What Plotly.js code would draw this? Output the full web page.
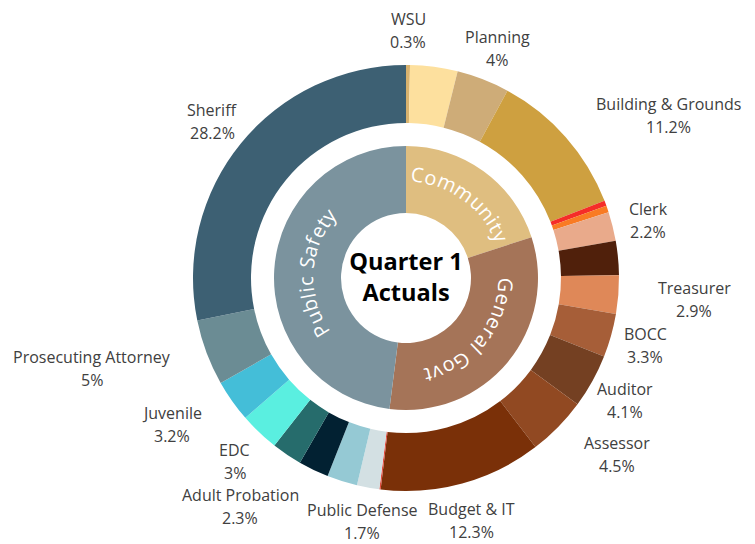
<!DOCTYPE html>
<html>
<head>
<meta charset="utf-8">
<script src="https://cdn.plot.ly/plotly-3.0.1.min.js"></script>
<style>
  html, body { margin: 0; padding: 0; background: #fff; }
  #chart { width: 755px; height: 544px; }
</style>
</head>
<body>
<div id="chart"></div>
<script>
// Anneau intérieur : groupes
const groupes = ["Community", "General Govt", "Public Safety"];
const couleursGroupes = ["#dfbe80", "#a57458", "#7b939e"];

// Anneau extérieur : services (% du total), dans l'ordre horaire depuis midi
const services = [
    "WSU", "Community 2", "Planning", "Building & Grounds", "Community 5", "Community 6",
    "Clerk", "General Govt 2", "Treasurer", "BOCC", "Auditor", "Assessor", "Budget & IT", "General Govt 8",
    "Public Defense", "Public Safety 2", "Public Safety 3", "Adult Probation", "EDC", "Juvenile",
    "Prosecuting Attorney", "Sheriff"
];
const pourcentages = [
    0.3, 3.6, 4, 11.2, 0.4, 0.5,
    2.2, 2.6, 2.9, 3.3, 4.1, 4.5, 12.3, 0.1,
    1.7, 2.3, 2.3, 2.3, 3, 3.2,
    5, 28.2
];
const groupeDe = [
    0, 0, 0, 0, 0, 0,
    1, 1, 1, 1, 1, 1, 1, 1,
    2, 2, 2, 2, 2, 2,
    2, 2
];
const couleursServices = [
    "#d8b26e", "#fde09e", "#ceac78", "#cea040", "#f52d28", "#f97b23",
    "#e9aa8b", "#50200b", "#df8858", "#a65e38", "#744022", "#914922", "#7a3008", "#e34b3e",
    "#d3e0e3", "#95c9d4", "#022132", "#266c6c", "#5aefe0", "#44bed8",
    "#6b8c94", "#3d6073"
];

const W = 755, H = 544;
const cx = 406, cy = 266; // centre, en px depuis la gauche / le bas

function domaine(r) {
    return {
        x: [(cx - r) / W, (cx + r) / W],
        y: [(cy - r) / H, (cy + r) / H]
    };
}

// totaux des groupes à partir des services
const totauxGroupes = groupes.map((g, i) =>
    pourcentages.reduce((s, v, j) => s + (groupeDe[j] === i ? v : 0), 0));

// position des étiquettes extérieures (centre du nom, px depuis le haut)
const placeEtiquettes = {
    "WSU": [408, 19],
    "Planning": [497, 37],
    "Building & Grounds": [668, 104],
    "Clerk": [648, 209],
    "Treasurer": [694, 288],
    "BOCC": [645, 334],
    "Auditor": [625, 389],
    "Assessor": [617, 443],
    "Budget & IT": [472, 509],
    "Public Defense": [362, 510],
    "Adult Probation": [240, 495],
    "EDC": [235, 450],
    "Juvenile": [172, 413],
    "Prosecuting Attorney": [92, 357],
    "Sheriff": [212, 110]
};

const annotations = [];
const policeEtiquette = { family: "Open Sans", size: 16, color: "#404040" };

services.forEach((s, i) => {
    const p = placeEtiquettes[s];
    if (!p) return;
    annotations.push({
        x: p[0] / W, y: 1 - p[1] / H, xref: "paper", yref: "paper",
        text: s, showarrow: false, xanchor: "center", yanchor: "middle",
        font: policeEtiquette
    });
    annotations.push({
        x: p[0] / W, y: 1 - (p[1] + 23) / H, xref: "paper", yref: "paper",
        text: pourcentages[i] + "%", showarrow: false, xanchor: "center", yanchor: "middle",
        font: policeEtiquette
    });
});

// texte courbé des groupes, lettre par lettre le long de l'anneau
const ctx = document.createElement("canvas").getContext("2d");
function texteCourbe(txt, angleMilieu, r, taille, espace) {
    ctx.font = taille + 'px "Open Sans"';
    const lettres = [...txt];
    const largeurs = lettres.map(c => ctx.measureText(c).width);
    const total = largeurs.reduce((a, b) => a + b, 0) + espace * (lettres.length - 1);
    const debut = angleMilieu * Math.PI / 180 - total / (2 * r);
    let pos = 0;
    lettres.forEach((c, k) => {
        const a = debut + (pos + largeurs[k] / 2) / r;
        pos += largeurs[k] + espace;
        if (c === " ") return;
        annotations.push({
            x: (cx + r * Math.sin(a)) / W,
            y: (cy + r * Math.cos(a)) / H,
            xref: "paper", yref: "paper",
            text: c, showarrow: false, xanchor: "center", yanchor: "middle",
            textangle: a * 180 / Math.PI,
            font: { family: "Open Sans", size: taille, color: "#fff" }
        });
    });
}

const totalGeneral = totauxGroupes.reduce((a, b) => a + b, 0);
let cumul = 0;
groupes.forEach((g, i) => {
    const milieu = 360 * (cumul + totauxGroupes[i] / 2) / totalGeneral;
    cumul += totauxGroupes[i];
    texteCourbe(g, milieu, i === 0 ? 104 : 100, 20, 1.4);
});

const exterieur = {
    type: "pie",
    labels: services,
    values: pourcentages,
    textinfo: "none",
    hole: 155 / 213,
    sort: false,
    direction: "clockwise",
    rotation: 0,
    marker: { colors: couleursServices, line: { width: 0 } },
    domain: domaine(213),
    showlegend: false,
    hoverinfo: "label+value"
};

const interieur = {
    type: "pie",
    labels: groupes,
    values: totauxGroupes,
    textinfo: "none",
    hole: 65 / 132,
    sort: false,
    direction: "clockwise",
    rotation: 0,
    marker: { colors: couleursGroupes, line: { width: 0 } },
    domain: domaine(132),
    showlegend: false,
    title: {
        text: "<b>Quarter 1<br>Actuals</b>",
        position: "middle center",
        font: { family: "Open Sans", size: 24, color: "#000" }
    },
    hoverinfo: "label+value"
};

const layout = {
    width: W,
    height: H,
    margin: { l: 0, r: 0, t: 0, b: 0 },
    paper_bgcolor: "#fff",
    showlegend: false,
    annotations: annotations
};

Plotly.newPlot("chart", [exterieur, interieur], layout, { displayModeBar: false });
</script>
</body>
</html>
